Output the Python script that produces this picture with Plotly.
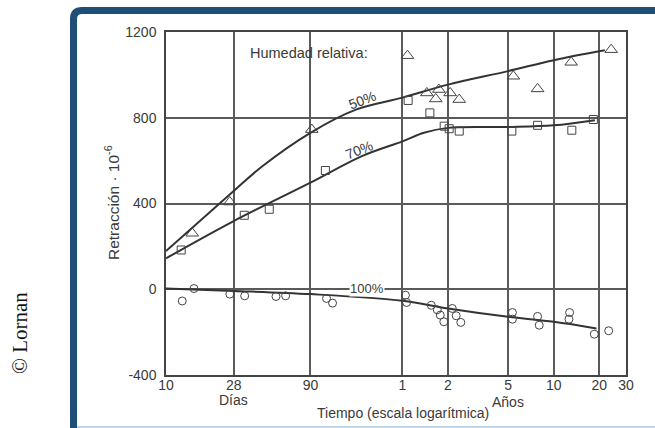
import numpy as np
import plotly.graph_objects as go

# ---------------- data (time in days, shrinkage in 1e-6) ----------------
# Measured points, 50 % relative humidity (triangles)
days_50 = [14.9, 26.4, 91.9, 394, 529, 606, 635, 754, 866, 1973, 2853, 4755, 8740]
vals_50 = [261, 407, 745, 1090, 916, 888, 932, 916, 885, 994, 935, 1059, 1118]

# Measured points, 70 % relative humidity (squares)
days_70 = [12.6, 32.9, 48.1, 113, 398, 554, 689, 743, 866, 1928, 2853, 4803, 6664]
vals_70 = [183, 345, 373, 554, 881, 823, 761, 749, 738, 738, 765, 742, 792]

# Measured points, 100 % relative humidity (circles)
days_100 = [12.8, 15.3, 26.4, 33.1, 53.3, 61.7, 115, 126, 382, 389, 566, 620, 649,
            685, 779, 827, 887, 1945, 1945, 2853, 2925, 4645, 4598, 6761, 8414]
vals_100 = [-55, 3, -23, -31, -34, -31, -43, -65, -28, -62, -75, -96, -121,
            -152, -90, -124, -155, -109, -140, -127, -168, -109, -140, -210, -194]

# Fitted curves
curve50_days = [10, 28, 43.3, 90, 180, 365, 730, 1825, 3650, 7935]
curve50_vals = [178, 458, 574, 730, 838, 894, 955, 1018, 1069, 1115]

curve70_days = [10, 28, 90, 197, 365, 506, 730, 1825, 3650, 6822]
curve70_vals = [144, 318, 497, 621, 690, 730, 753, 757, 765, 789]

curve100_days = [10, 28, 90, 365, 730, 1825, 3650, 6992]
curve100_vals = [3, -8, -23, -54, -90, -129, -152, -183]

# Axis ticks
x_tick_days = [10, 28, 90, 365, 730, 1825, 3650, 7300, 10950]
x_tick_text = ["10", "28", "90", "1", "2", "5", "10", "20", "30"]
y_tick_vals = [-400, 0, 400, 800, 1200]
y_tick_text = ["-400", "0", "400", "800", "1200"]

# ---------------- layout geometry ----------------
W, H = 655, 428
ML, MR, MT, MB = 166, 29, 32, 53
PW = W - ML - MR
PH = H - MT - MB


def px(x):
    return (x - ML) / PW


def py(y):
    return (H - MB - y) / PH


FONT = "Liberation Sans, Arial, sans-serif"
TXT = "#3a3a3a"
CURVE = "#333333"
GRID = "#5a5a5a"
MARK = "#444444"

fig = go.Figure()

for cd, cv in [(curve50_days, curve50_vals), (curve70_days, curve70_vals),
               (curve100_days, curve100_vals)]:
    fig.add_trace(go.Scatter(x=cd, y=cv, mode="lines",
                             line=dict(color=CURVE, width=2, shape="spline", smoothing=1.0),
                             hoverinfo="skip", showlegend=False))

fig.add_trace(go.Scatter(x=days_50, y=vals_50, mode="markers",
                         marker=dict(symbol="triangle-up-open", size=11, color=MARK,
                                     line=dict(width=1, color=MARK)),
                         showlegend=False))
fig.add_trace(go.Scatter(x=days_70, y=vals_70, mode="markers",
                         marker=dict(symbol="square-open", size=8, color=MARK,
                                     line=dict(width=1, color=MARK)),
                         showlegend=False))
fig.add_trace(go.Scatter(x=days_100, y=vals_100, mode="markers",
                         marker=dict(symbol="circle-open", size=8, color=MARK,
                                     line=dict(width=1, color=MARK)),
                         showlegend=False))

fig.update_xaxes(type="log", range=[1 - 1e-4, np.log10(10950) + 1e-4],
                 tickmode="array", tickvals=x_tick_days, ticktext=x_tick_text,
                 showgrid=True, gridcolor=GRID, gridwidth=1.5,
                 showline=True, linecolor="#444444", linewidth=1.5, mirror=True,
                 ticks="", zeroline=False, ticklabelstandoff=-4,
                 tickfont=dict(family=FONT, size=14, color=TXT))
fig.update_yaxes(range=[-400.5, 1200.5],
                 tickmode="array", tickvals=y_tick_vals, ticktext=y_tick_text,
                 showgrid=True, gridcolor=GRID, gridwidth=1.5,
                 showline=True, linecolor="#444444", linewidth=1.5, mirror=True,
                 ticks="", zeroline=False, ticklabelstandoff=5,
                 tickfont=dict(family=FONT, size=14, color=TXT))


def note(x, y, text, xref="paper", yref="paper", size=14, **kw):
    d = dict(x=x, y=y, xref=xref, yref=yref, text=text, showarrow=False,
             xanchor="center", yanchor="middle",
             font=dict(family=kw.pop("family", FONT), size=size, color=kw.pop("color", TXT)))
    d.update(kw)
    return d


ann = [
    note(px(309), py(53), "Humedad relativa:", size=14.5),
    note(np.log10(198), 885, "50%", xref="x", yref="y", textangle=-21),
    note(np.log10(188), 652, "70%", xref="x", yref="y", textangle=-22),
    note(np.log10(214), 0, "100%", xref="x", yref="y", size=13, yshift=1,
         bgcolor="white", borderpad=0),
    note(np.log10(28), py(400), "Días", xref="x"),
    note(np.log10(1825), py(402), "Años", xref="x"),
    note(px(403), py(413), "Tiempo (escala logarítmica)"),
    note(px(112), py(203), "Retracción · 10<sup>-6</sup>", textangle=-90, size=15.5),
    note(px(20), py(333), "© Lornan", textangle=-90, size=21,
         family="Liberation Serif, Times New Roman, serif", color="#111111"),
]

frame_path = (f"M {px(73.5)} {py(440)} L {px(73.5)} {py(19)} "
              f"Q {px(73.5)} {py(10.5)} {px(82)} {py(10.5)} L {px(670)} {py(10.5)}")
shapes = [
    dict(type="line", xref="paper", yref="paper", x0=px(77), x1=px(670),
         y0=py(427), y1=py(427), line=dict(color="#BDD7EE", width=2), layer="above"),
    dict(type="path", xref="paper", yref="paper", path=frame_path,
         line=dict(color="#1F4E79", width=7), layer="above"),
]

fig.update_layout(
    width=W, height=H,
    margin=dict(l=ML, r=MR, t=MT, b=MB, pad=0),
    paper_bgcolor="white", plot_bgcolor="white",
    annotations=ann, shapes=shapes,
    showlegend=False,
)

fig.write_html("out.html")
